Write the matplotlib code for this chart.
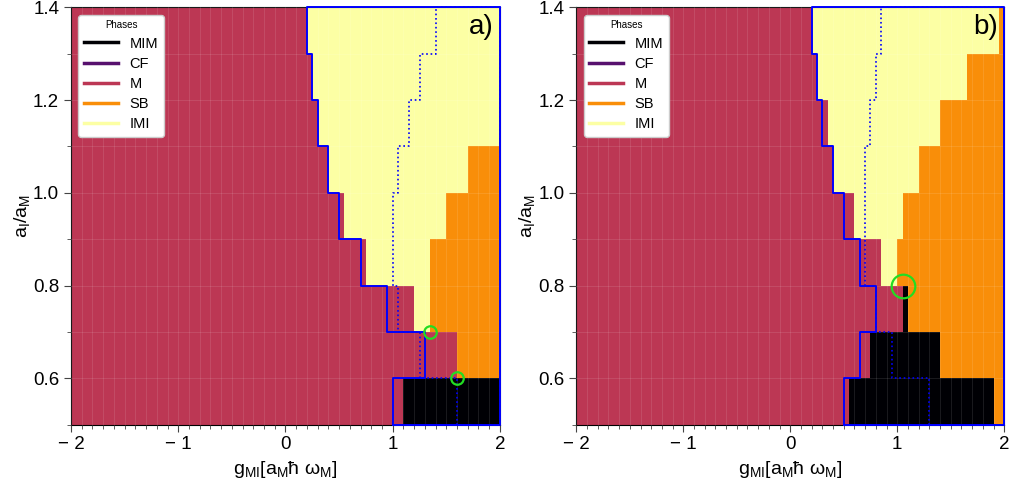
import matplotlib.pyplot as plt
import matplotlib.ticker as tik
import numpy as np
from matplotlib.lines import Line2D

plt.rcParams['font.family'] = ['Liberation Sans', 'DejaVu Sans']
plt.rcParams['mathtext.fontset'] = 'custom'
plt.rcParams['mathtext.rm'] = 'Liberation Sans'
plt.rcParams['mathtext.it'] = 'Liberation Sans:italic'

# phases and their colour index in inferno
phase_names = ['MIM', 'CF', 'M', 'SB', 'IMI']
phase_code = {p: i for i, p in enumerate(phase_names)}

# grid: g_MI from -2 to 2 (step 0.05), a_I/a_M rows of 0.1 from 0.5 to 1.4
x_edges = np.linspace(-2, 2, 81)
y_edges = np.round(np.linspace(0.5, 1.4, 10), 2)

# each row (bottom to top): (right end of segment, phase)
rows_a = [
    [(1.10, 'M'), (2.0, 'MIM')],
    [(1.60, 'M'), (2.0, 'SB')],
    [(1.20, 'M'), (1.35, 'IMI'), (2.0, 'SB')],
    [(0.75, 'M'), (1.35, 'IMI'), (2.0, 'SB')],
    [(0.55, 'M'), (1.50, 'IMI'), (2.0, 'SB')],
    [(0.40, 'M'), (1.70, 'IMI'), (2.0, 'SB')],
    [(0.30, 'M'), (2.0, 'IMI')],
    [(0.25, 'M'), (2.0, 'IMI')],
    [(0.20, 'M'), (2.0, 'IMI')],
]
rows_b = [
    [(0.55, 'M'), (1.90, 'MIM'), (2.0, 'SB')],
    [(0.75, 'M'), (1.40, 'MIM'), (2.0, 'SB')],
    [(1.05, 'M'), (1.10, 'MIM'), (2.0, 'SB')],
    [(0.85, 'M'), (1.00, 'IMI'), (2.0, 'SB')],
    [(0.60, 'M'), (1.05, 'IMI'), (2.0, 'SB')],
    [(0.40, 'M'), (1.20, 'IMI'), (2.0, 'SB')],
    [(0.35, 'M'), (1.40, 'IMI'), (2.0, 'SB')],
    [(0.25, 'M'), (1.65, 'IMI'), (2.0, 'SB')],
    [(0.20, 'M'), (1.95, 'IMI'), (2.0, 'SB')],
]

# left edge (per row) of the regions enclosed by the blue boundaries
solid_a = [1.0, 1.3, 0.95, 0.7, 0.5, 0.4, 0.3, 0.25, 0.2]
dotted_a = [1.6, 1.25, 1.05, 1.0, 1.0, 1.05, 1.15, 1.25, 1.4]
solid_b = [0.5, 0.65, 0.8, 0.65, 0.5, 0.4, 0.3, 0.25, 0.2]
dotted_b = [1.3, 0.95, 0.8, 0.7, 0.7, 0.7, 0.75, 0.8, 0.85]

# green markers
circles_a = [(1.35, 0.7), (1.6, 0.6)]
circles_b = [(1.05, 0.8)]


def phase_grid(rows):
    xc = 0.5 * (x_edges[1:] + x_edges[:-1])
    z = np.zeros((len(rows), len(xc)))
    for i, segs in enumerate(rows):
        for j, x in enumerate(xc):
            for x_end, p in segs:
                if x < x_end:
                    z[i, j] = phase_code[p]
                    break
    return z


def step_line(left):
    xs, ys = [], []
    for i, x in enumerate(left):
        xs += [x, x]
        ys += [y_edges[i], y_edges[i + 1]]
    xs += [2, 2, left[0]]
    ys += [1.4, 0.5, 0.5]
    return xs, ys


def xfmt(v, pos):
    return '\u2212 %d' % abs(v) if v < 0 else '%d' % v


fig = plt.figure(figsize=(10.12, 4.87), dpi=100)
ax_a = fig.add_axes([0.0702, 0.128, 0.4238, 0.857])
ax_b = fig.add_axes([0.5695, 0.128, 0.4228, 0.857])

cmap = plt.get_cmap('inferno')

for ax, rows, solid, dotted, circ, tag in [
        (ax_a, rows_a, solid_a, dotted_a, circles_a, 'a)'),
        (ax_b, rows_b, solid_b, dotted_b, circles_b, 'b)')]:
    ax.pcolormesh(x_edges, y_edges, phase_grid(rows), cmap=cmap,
                  vmin=0, vmax=4, shading='flat', edgecolor='face', lw=0)

    xs, ys = step_line(dotted)
    ax.plot(xs, ys, color='blue', lw=1.2, ls=':', zorder=3, clip_on=False)
    xs, ys = step_line(solid)
    ax.plot(xs, ys, color='blue', lw=1.4, zorder=4, clip_on=False)

    ms = 9 if tag == 'a)' else 17
    for cx, cy in circ:
        ax.plot(cx, cy, 'o', mfc='none', mec='#22dd22', mew=1.6, ms=ms, zorder=5)

    ax.set_xlim(-2, 2)
    ax.set_ylim(0.5, 1.4)
    ax.xaxis.set_major_locator(tik.MultipleLocator(1))
    ax.xaxis.set_minor_locator(tik.MultipleLocator(0.1))
    ax.xaxis.set_major_formatter(tik.FuncFormatter(xfmt))
    ax.yaxis.set_major_locator(tik.MultipleLocator(0.2))
    ax.yaxis.set_minor_locator(tik.MultipleLocator(0.1))
    ax.yaxis.set_major_formatter(tik.FormatStrFormatter('%.1f'))
    ax.tick_params(which='both', direction='out', color='#444444', labelsize=13.5)
    ax.tick_params(which='major', length=5)
    ax.tick_params(which='minor', length=3)
    ax.grid(True, which='both', color='white', alpha=0.12, lw=0.6)
    ax.set_axisbelow(False)

    ax.set_xlabel(r'g$_{\mathrm{MI}}$[a$_{\mathrm{M}}$ħ ω$_{\mathrm{M}}$]', fontsize=14)
    ax.set_ylabel(r'a$_{\mathrm{I}}$/a$_{\mathrm{M}}$', fontsize=14, labelpad=1)
    ax.text(0.985, 0.985, tag, transform=ax.transAxes, ha='right', va='top',
            fontsize=20, zorder=6)

    handles = [Line2D([], [], color=cmap(i / 4), lw=2.5) for i in range(5)]
    leg = ax.legend(handles, phase_names, title='Phases', loc='upper left',
                    fontsize=10.5, title_fontsize=7, handlelength=2.3,
                    labelspacing=0.42, framealpha=1, edgecolor='#cccccc')
    leg.set_zorder(7)

plt.savefig('out.png', dpi=100)
